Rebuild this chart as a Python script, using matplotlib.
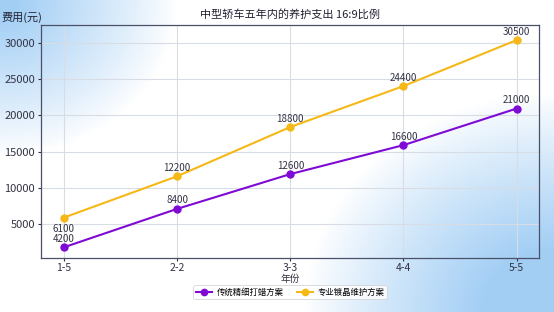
import numpy as np
import matplotlib
matplotlib.use("Agg")
import matplotlib.pyplot as plt

plt.rcParams['font.family'] = ['Noto Sans CJK SC', 'DejaVu Sans']

years = ["1-5", "2-2", "3-3", "4-4", "5-5"]
wax_values = [1800, 7100, 11900, 15900, 20950]
wax_labels = ["4200", "8400", "12600", "16600", "21000"]
coat_values = [5900, 11600, 18400, 24050, 30400]
coat_labels = ["6100", "12200", "18800", "24400", "30500"]
yticks = [5000, 10000, 15000, 20000, 25000, 30000]

W, H = 554, 312
fig = plt.figure(figsize=(W / 100, H / 100), dpi=100)

# background gradient
bg = fig.add_axes([0, 0, 1, 1], zorder=-10)
xx, yy = np.meshgrid(np.linspace(0, 1, W), np.linspace(0, 1, H))
tl = np.clip(1 - np.sqrt((xx / 0.32) ** 2 + (yy / 0.5) ** 2), 0, 1)
br = np.clip(1 - np.sqrt(((1 - xx) / 0.45) ** 2 + ((1 - yy) / 0.7) ** 2), 0, 1)
t = np.clip(np.maximum(tl * 1.1, br * 1.4), 0, 1) ** 0.9
blue = np.array([0.64, 0.81, 0.96])
img = (1 - t[..., None]) * np.array([1.0, 1.0, 1.0]) + t[..., None] * blue
bg.imshow(img, aspect='auto', extent=[0, 1, 0, 1], origin='upper')
bg.axis('off')

ax = fig.add_axes([41.3 / W, 1 - 257.7 / H, (539.3 - 41.3) / W, (257.7 - 25) / H])
ax.patch.set_alpha(0.0)

x = np.arange(len(years))
c1 = '#7f0ad6'
c2 = '#f5b816'
ax.plot(x, wax_values, color=c1, lw=1.5, marker='o', ms=5, label='传统精细打蜡方案', zorder=3)
ax.plot(x, coat_values, color=c2, lw=1.5, marker='o', ms=5, label='专业镀晶维护方案', zorder=3)

for i in range(len(x)):
    ax.annotate(wax_labels[i], (x[i], wax_values[i]), xytext=(0, 2.5), textcoords='offset points',
                ha='center', va='bottom', fontsize=7, color='#333344')
    if i == 0:
        ax.annotate(coat_labels[i], (x[i], coat_values[i]), xytext=(0, -4.5), textcoords='offset points',
                    ha='center', va='top', fontsize=7, color='#333344')
    else:
        ax.annotate(coat_labels[i], (x[i], coat_values[i]), xytext=(0, 2.5), textcoords='offset points',
                    ha='center', va='bottom', fontsize=7, color='#333344')

ax.set_xlim(-0.2, 4.2)
ax.set_ylim(360, 32480)
ax.set_xticks(x)
ax.set_xticklabels(years)
ax.set_yticks(yticks)
ax.tick_params(axis='both', labelsize=7.5, colors='#333344', length=2.5, width=0.8, pad=1.5)
ax.tick_params(axis='y', labelsize=8, pad=2)
ax.grid(True, color='#d8dce4', lw=0.8)
ax.set_axisbelow(True)
for s in ax.spines.values():
    s.set_color('#4a5068')
    s.set_linewidth(0.9)

ax.set_title('中型轿车五年内的养护支出 16:9比例', fontsize=8, color='#222233', pad=5)
ax.set_xlabel('年份', fontsize=7, color='#333344', labelpad=0.5)
fig.text(22 / W, 1 - 23 / H, '费用(元)', ha='center', va='bottom', fontsize=8, color='#222233')

leg = fig.legend(loc='center', bbox_to_anchor=(290 / W, 1 - 292 / H), ncol=2, fontsize=6,
                 frameon=True, handlelength=2.0, columnspacing=1.6, borderpad=0.3,
                 handletextpad=0.5, markerscale=0.9)
leg.get_frame().set_edgecolor('#cccccc')
leg.get_frame().set_linewidth(0.6)

fig.savefig('out.png', dpi=100)
